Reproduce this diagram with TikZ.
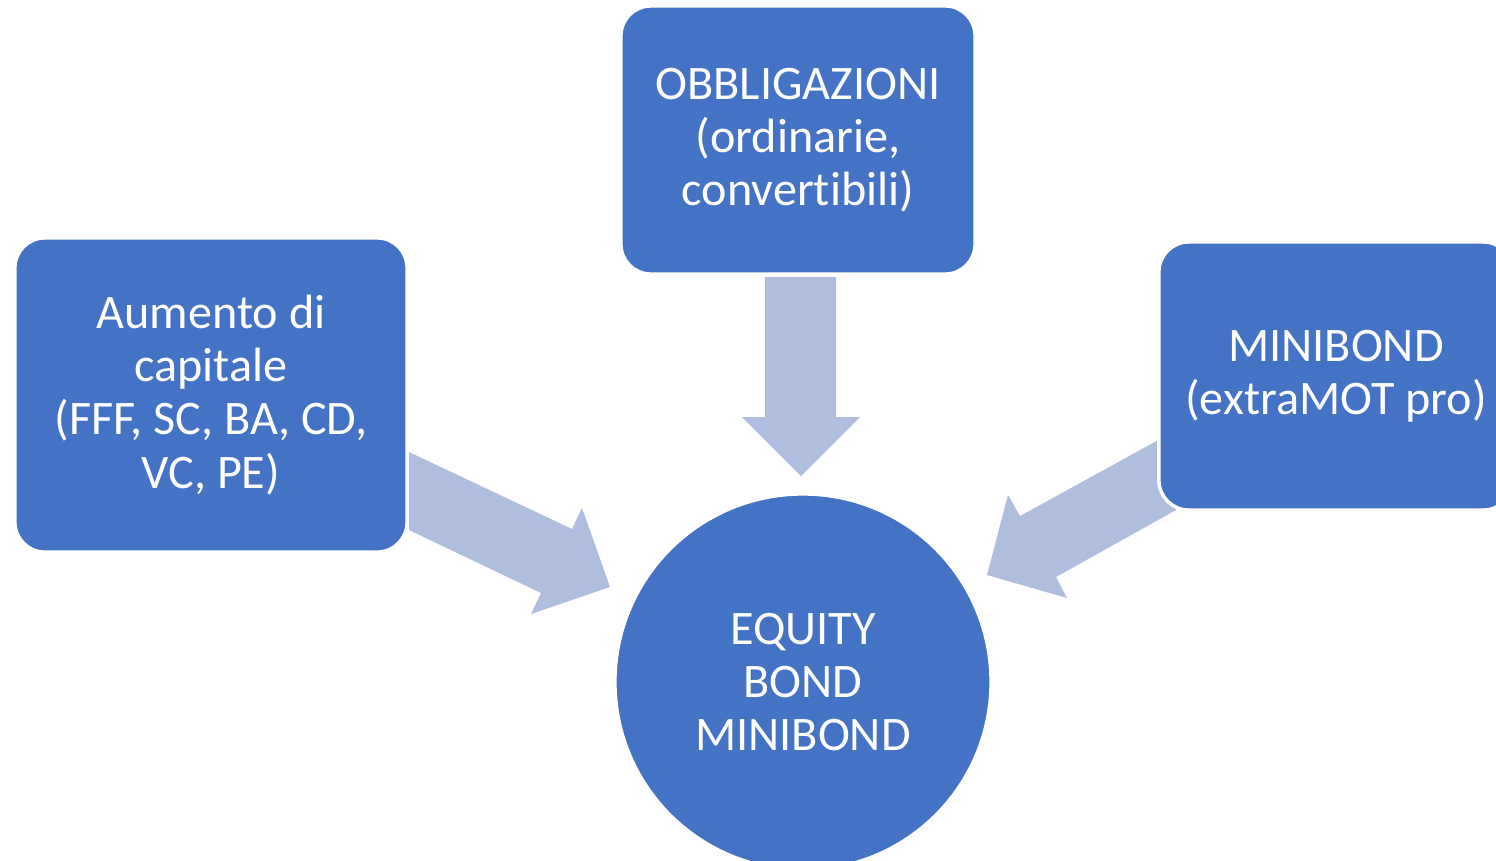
\documentclass[tikz,border=0pt]{standalone}
\usepackage{fontspec}
\setmainfont{Carlito}[RawFeature=-liga]
\usepackage{tikz}
\usetikzlibrary{positioning}
\definecolor{boxblue}{RGB}{68,114,196}
\definecolor{arrowblue}{RGB}{175,189,222}

\begin{document}
\begin{tikzpicture}[x=0.01cm,y=-0.01cm]
    \tikzstyle{block}=[rectangle,rounded corners=8.5pt,fill=boxblue,draw=white,line width=1pt,
      text=white,align=center,font=\fontsize{13.7}{15.1}\selectfont,inner sep=0pt]
    \tikzstyle{hub}=[circle,fill=boxblue,draw=white,line width=1pt,
      text=white,align=center,font=\fontsize{13.7}{15.1}\selectfont,minimum size=3.76cm]
    \tikzstyle{fat arrow}=[fill=arrowblue]
    \useasboundingbox (0,0) rectangle (1496,860);
    \clip (0,0) rectangle (1496,860);
    % arrows behind the boxes
    \fill[fat arrow] (765,277) -- (836,277) -- (836,417) -- (860,417) -- (801,476)
      -- (742,417) -- (765,417) -- cycle;
    \fill[fat arrow] (409,452) -- (572,529) -- (582,508) -- (610,587) -- (531,614)
      -- (541,593) -- (409,530) -- cycle;
    \fill[fat arrow] (1162,438) -- (1020,516) -- (1008,495) -- (987,575) -- (1067,598)
      -- (1056,577) -- (1176,510) -- cycle;
    % boxes
    \node[block,minimum width=3.92cm,minimum height=3.14cm] (capitale) at (211,395)
      {Aumento di\\capitale\\(FFF, SC, BA, CD,\\VC, PE)};
    \node[block,minimum width=3.54cm,minimum height=2.68cm] (obbligazioni) at (798,140)
      {OBBLIGAZIONI\\(ordinarie,\\convertibili)};
    \node[block,minimum width=3.54cm,minimum height=2.68cm] (minibond) at (1336,376)
      {MINIBOND\\(extraMOT pro)};
    \node[hub] (equity) at (803,682) {EQUITY\\BOND\\MINIBOND};
\end{tikzpicture}
\end{document}
